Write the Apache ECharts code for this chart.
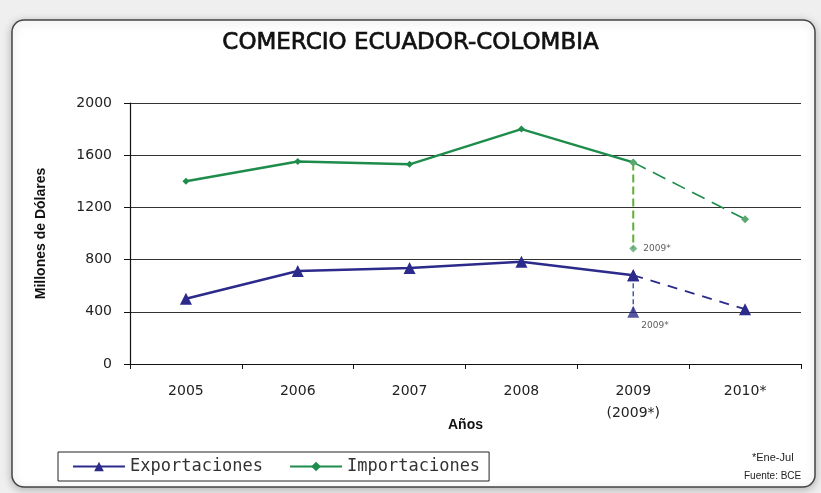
<!DOCTYPE html>
<html><head><meta charset="utf-8">
<script src="https://cdn.jsdelivr.net/npm/echarts@6/dist/echarts.min.js"></script>
<style>html,body{margin:0;padding:0;background:#efefef}#c{width:821px;height:493px}</style>
</head><body><div id="c"></div>
<script>
const categories = ['2005','2006','2007','2008','2009\n(2009*)','2010*'];
const exportaciones = [500, 713, 736, 784, 680];
const exportaciones2010 = 420;
const exportaciones2009p = 400;
const importaciones = [1400, 1552, 1530, 1800, 1545];
const importaciones2010 = 1110;
const importaciones2009p = 885;
const yTicks = [0, 400, 800, 1200, 1600, 2000];

const GREEN = '#1e8c4a', NAVY = '#2c2a8a', LGREEN = '#5fae3a';
const narrow = '"Liberation Sans Narrow","Arial Narrow","Liberation Sans",sans-serif';
const chart = echarts.init(document.getElementById('c'));
const lastIdx = 4, nextIdx = 5;
function solid(arr){ return arr.concat([null]); }
function dashed(v0, v1){ const a = categories.map(()=>null); a[lastIdx]=v0; a[nextIdx]=v1; return a; }

chart.setOption({
  backgroundColor: '#efefef',
  animation: false,
  graphic: [
    {type:'rect', shape:{x:12,y:20,width:803,height:467,r:12}, style:{fill:'#fff', stroke:'#444', lineWidth:1.5, shadowBlur:8, shadowColor:'rgba(0,0,0,0.25)', shadowOffsetY:2}, z:-10},
    {type:'text', left:752, top:452, style:{text:'*Ene-Jul', font:'11px '+narrow, fill:'#222'}},
    {type:'text', left:744, top:471, style:{text:'Fuente: BCE', font:'10px '+narrow, fill:'#222'}}
  ],
  title: {text:'COMERCIO ECUADOR-COLOMBIA', left:'center', top:32, textStyle:{fontFamily:'DejaVu Sans', fontSize:23, fontWeight:'normal', color:'#111', textBorderColor:'#111', textBorderWidth:0.7}, padding:0},
  legend: {
    data:['Exportaciones','Importaciones'], left:58, top:452, itemWidth:52, itemHeight:12, itemGap:26,
    borderColor:'#222', borderWidth:1, padding:[6,9,6,14], borderRadius:0,
    textStyle:{fontFamily:'DejaVu Sans Mono', fontSize:17, color:'#333'}
  },
  grid: {left:130, right:20, top:103, bottom:129},
  xAxis: {
    type:'category', data:categories, boundaryGap:true,
    name:'Años', nameLocation:'middle', nameGap:54, nameMoveOverlap:false,
    nameTextStyle:{fontFamily:narrow, fontWeight:'bold', fontSize:14, color:'#111'},
    axisLine:{lineStyle:{color:'#111', width:1.2}},
    axisTick:{show:true, inside:false, length:5, lineStyle:{color:'#111'}},
    axisLabel:{fontFamily:'DejaVu Sans', fontSize:14, color:'#222', margin:16, lineHeight:22}
  },
  yAxis: {
    type:'value', min:0, max:2000, interval:400,
    name:'Millones de Dólares', nameLocation:'middle', nameGap:82, nameRotate:90, nameMoveOverlap:false,
    nameTextStyle:{fontFamily:narrow, fontWeight:'bold', fontSize:14, color:'#111'},
    axisLine:{show:true, lineStyle:{color:'#111', width:1.2}},
    axisTick:{show:true, length:6, lineStyle:{color:'#111'}},
    axisLabel:{fontFamily:'DejaVu Sans', fontSize:14, color:'#222', margin:18, formatter: v => String(v)},
    splitLine:{lineStyle:{color:'#333', width:1.2}}
  },
  series: [
    {name:'Exportaciones', type:'line', data:solid(exportaciones), color:NAVY, symbol:'triangle', symbolSize:12, lineStyle:{width:2.5, color:NAVY}, itemStyle:{color:NAVY}, z:5},
    {name:'Exportaciones', type:'line', data:dashed(exportaciones[lastIdx], exportaciones2010), symbol:'triangle', symbolSize:12, lineStyle:{width:1.8, type:[10,8], color:NAVY}, itemStyle:{color:NAVY}, z:5},
    {name:'exp2009p', type:'line', data:[[lastIdx, exportaciones[lastIdx]],[lastIdx, exportaciones2009p]], symbol:'none', lineStyle:{width:1.5, type:[5,3], color:'#4a5aa8'}, z:4},
    {name:'exp2009pt', type:'scatter', data:[[lastIdx, exportaciones2009p]], symbol:'triangle', symbolSize:12, itemStyle:{color:NAVY},
      label:{show:true, position:'right', distance:2, offset:[0,14], formatter:'2009*', fontFamily:'DejaVu Sans', fontSize:9, color:'#333'}, z:6},
    {name:'Importaciones', type:'line', data:solid(importaciones), color:GREEN, symbol:'diamond', symbolSize:7, lineStyle:{width:2.5, color:GREEN}, itemStyle:{color:GREEN}, z:5},
    {name:'Importaciones', type:'line', data:dashed(importaciones[lastIdx], importaciones2010), symbol:'diamond', symbolSize:8, lineStyle:{width:1.6, type:[14,8], color:GREEN}, itemStyle:{color:'#5aa870'}, z:5},
    {name:'imp2009p', type:'line', data:[[lastIdx, importaciones[lastIdx]],[lastIdx, importaciones2009p]], symbol:'none', lineStyle:{width:2, type:[8,4], color:LGREEN}, z:4},
    {name:'imp2009pt', type:'scatter', data:[[lastIdx, importaciones2009p]], symbol:'diamond', symbolSize:8, itemStyle:{color:'#5aa870'},
      label:{show:true, position:'right', distance:6, formatter:'2009*', fontFamily:'DejaVu Sans', fontSize:9, color:'#333'}, z:6}
  ]
});
</script></body></html>
